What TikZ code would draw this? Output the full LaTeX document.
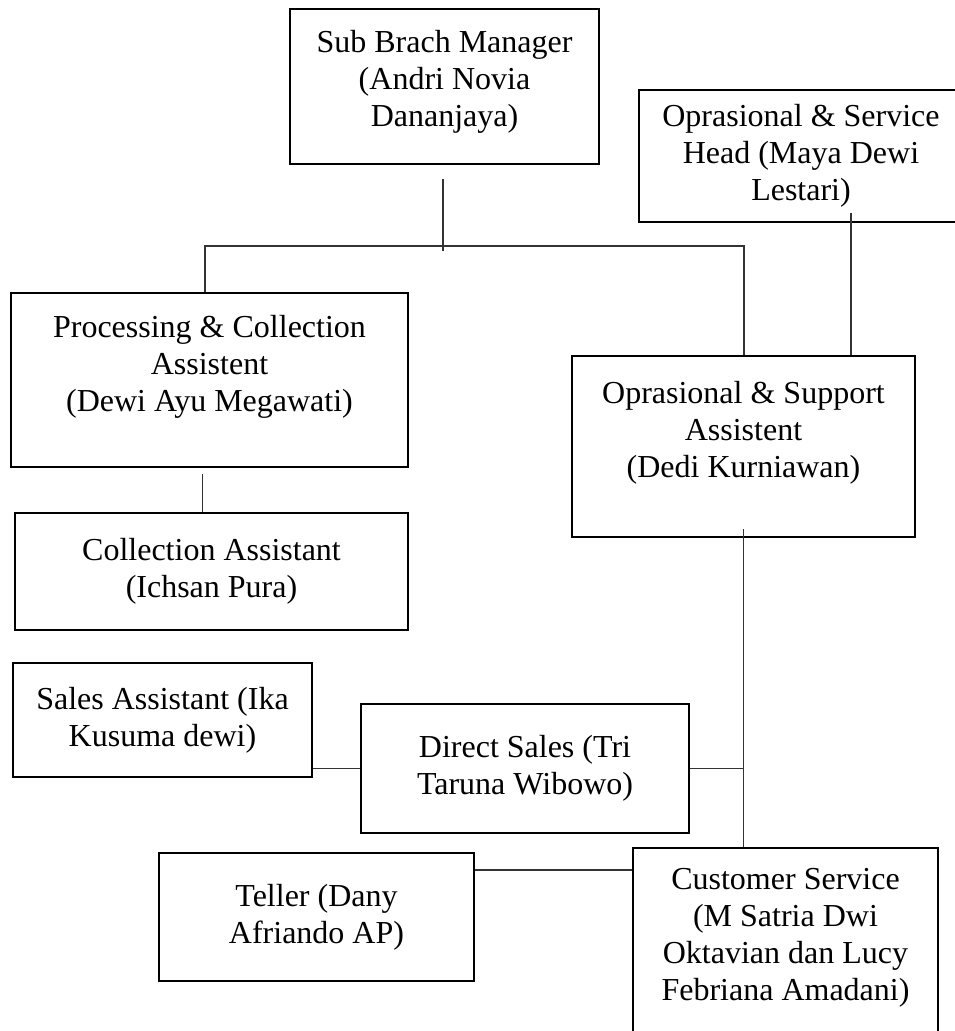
\documentclass[tikz,border=0pt]{standalone}
\usepackage{fontspec}
\setmainfont{Liberation Serif}
\usetikzlibrary{positioning}
\tikzset{
    post/.style = {rectangle, draw=black, line width=2.2pt, inner sep=0pt, align=center, font=\fontsize{32}{37}\selectfont},
    link/.style = {line width=1.1pt, draw=black!80},
}

\begin{document}
\begin{tikzpicture}[x=1pt,y=-1pt]
\useasboundingbox (0,0) rectangle (955,1031);
\clip (0,0) rectangle (955,1031);
\node[post, minimum width=309, minimum height=155, text depth=17pt] at (444.5,86.5) (mgr) {Sub Brach Manager\\(Andri Novia\\Dananjaya)};
\node[post, minimum width=324, minimum height=132] at (801,156) (osh) {Oprasional \& Service\\Head (Maya Dewi\\Lestari)};
\node[post, minimum width=397, minimum height=174, text depth=33pt] at (209.5,380) (proc) {Processing \& Collection\\Assistent\\(Dewi Ayu Megawati)};
\node[post, minimum width=343, minimum height=181, text depth=35pt] at (743.5,446.5) (osa) {Oprasional \& Support\\Assistent\\(Dedi Kurniawan)};
\node[post, minimum width=393, minimum height=117] at (211.5,571.5) (coll) {Collection Assistant\\(Ichsan Pura)};
\node[post, minimum width=299, minimum height=114] at (162.5,720) (sales) {Sales Assistant (Ika\\Kusuma dewi)};
\node[post, minimum width=328, minimum height=129] at (525,768.5) (direct) {Direct Sales (Tri\\Taruna Wibowo)};
\node[post, minimum width=315, minimum height=128] at (316.5,917) (teller) {Teller (Dany\\Afriando AP)};
\node[post, minimum width=305, minimum height=200, text depth=27pt] at (785.5,948) (cs) {Customer Service\\(M Satria Dwi\\Oktavian dan Lucy\\Febriana Amadani)};
%
\coordinate (busl) at (205,246);
\coordinate (busr) at (744,246);
\coordinate (oshdrop) at (851,213);
\draw[link] (mgr.south) ++(-1.5,14) -- ++(0,72);
\draw[link] (proc.north -| busl) -- (busl) -- (busr) -- (busr |- osa.north);
\draw[link] (oshdrop) -- (oshdrop |- osa.north);
\draw[link] ([xshift=-7pt,yshift=-6pt]proc.south) -- ([xshift=-7pt]proc.south |- coll.north);
\draw[link] ([yshift=9pt]osa.south) -- (osa.south |- cs.north);
\draw[link] (sales.east |- direct.west) -- (direct.west);
\draw[link] (direct.east) -- (direct.east -| osa.south);
\draw[link] ([yshift=47pt]teller.east) -- ([yshift=47pt]teller.east -| cs.west);
\end{tikzpicture}
\end{document}
